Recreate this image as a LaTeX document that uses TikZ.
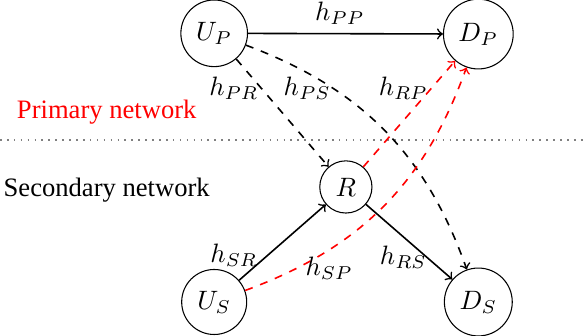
\documentclass[tikz,border=0pt]{standalone}
\usepackage{fontspec}
\setmainfont{Liberation Serif}
\begin{document}
\begin{tikzpicture}[scale=0.1, semithick]
\tikzstyle{terminal}=[draw, circle]
\tikzstyle{gain}=[inner sep=0pt]
\tikzstyle{link}=[->]
\tikzstyle{interf}=[->, dashed]
\useasboundingbox (0,0) rectangle (77.03,-44.27);

\node[terminal, thin] (UP) at (28.3,-4.4) {$U_P$};
\node[terminal, thin] (DP) at (63.2,-4.5) {$D_P$};
\node[terminal, thin] (R) at (45.7,-24.7) {$R$};
\node[terminal, thin] (US) at (28.3,-39.9) {$U_S$};
\node[terminal, thin] (DS) at (63.2,-39.9) {$D_S$};

\node (prim) at (14.1,-14.8) {\textcolor{red}{Primary network}};
\node (sec) at (14.1,-25.1) {Secondary network};
\coordinate (sepL) at (0,-18.5);
\coordinate (sepR) at (77.03,-18.5);
\draw[gray, dotted] (sepL) -- (sepR);

\draw[link] (UP) -- (DP);
\draw[interf] (UP) -- (R);
\draw[interf] (UP) to[bend left=25] (DS);
\draw[interf, red] (R) -- (DP);
\draw[interf, red] (US) to[bend right=25] (DP);
\draw[link] (US) -- (R);
\draw[link] (R) -- (DS);

\node[gain] (hPP) at (44.9,-1.7) {$h_{PP}$};
\node[gain] (hPR) at (30.9,-11.6) {$h_{PR}$};
\node[gain] (hPS) at (40.6,-11.6) {$h_{PS}$};
\node[gain] (hRP) at (53.3,-11.6) {$h_{RP}$};
\node[gain] (hSR) at (30.9,-33.7) {$h_{SR}$};
\node[gain] (hSP) at (43.5,-35.4) {$h_{SP}$};
\node[gain] (hRS) at (53.3,-34.0) {$h_{RS}$};

\end{tikzpicture}
\end{document}
